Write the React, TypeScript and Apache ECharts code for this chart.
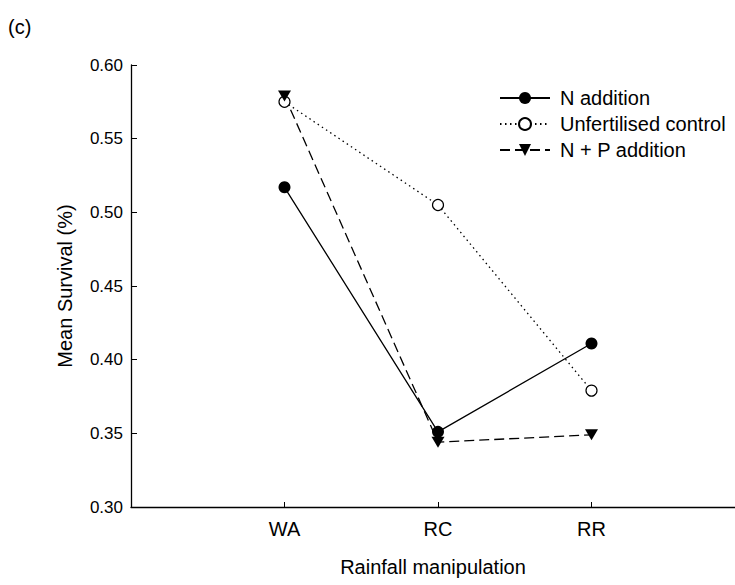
import React, { useEffect, useRef } from "react";
import * as echarts from "echarts";

const categories = ["WA", "RC", "RR"];
const categoryPositions = [1, 2, 3];
const nAddition = [0.517, 0.351, 0.411];
const unfertilised = [0.575, 0.505, 0.379];
const npAddition = [0.579, 0.344, 0.349];
const yTicks = [0.3, 0.35, 0.4, 0.45, 0.5, 0.55, 0.6];
const seriesNames = ["N addition", "Unfertilised control", "N + P addition"];
const panelLabel = "(c)";

const FONT = "Liberation Sans, Arial, sans-serif";

export default function App() {
  const ref = useRef<HTMLDivElement>(null);
  useEffect(() => {
    if (!ref.current) return;
    const chart = echarts.init(ref.current, null, { renderer: "svg" });
    const pts = (vals: number[]) => vals.map((v, i) => [categoryPositions[i], v]);
    chart.setOption({
      animation: false,
      backgroundColor: "#fff",
      graphic: [
        {
          type: "text",
          left: 8,
          top: 17,
          style: { text: panelLabel, fontFamily: FONT, fontSize: 20, fill: "#000" },
        },
      ],
      legend: {
        orient: "vertical",
        left: 499,
        top: 88,
        padding: 0,
        itemWidth: 50,
        itemHeight: 15,
        itemGap: 6,
        data: seriesNames,
        textStyle: { fontFamily: FONT, fontSize: 20, color: "#000", padding: [0, 0, 0, 5] },
      },
      grid: { left: 131, right: 0, top: 65, bottom: 78, containLabel: false },
      xAxis: {
        type: "value",
        min: 0,
        max: 604 / 153.5,
        name: "Rainfall manipulation",
        nameLocation: "middle",
        nameGap: 50,
        nameTextStyle: { fontFamily: FONT, fontSize: 20, color: "#000" },
        splitLine: { show: false },
        axisLine: { lineStyle: { color: "#000", width: 1.3 } },
        axisTick: {
          inside: true,
          length: 5,
          lineStyle: { color: "#000" },
          customValues: categoryPositions,
        },
        axisLabel: {
          customValues: categoryPositions,
          formatter: (v: number) => categories[categoryPositions.indexOf(Math.round(v))] ?? "",
          fontFamily: FONT,
          fontSize: 20,
          color: "#000",
          margin: 12,
        },
      },
      yAxis: {
        type: "value",
        min: 0.3,
        max: 0.6,
        interval: 0.05,
        name: "Mean Survival (%)",
        nameLocation: "middle",
        nameGap: 56,
        nameTextStyle: { fontFamily: FONT, fontSize: 20, color: "#000" },
        splitLine: { show: false },
        axisLine: { show: true, lineStyle: { color: "#000", width: 1.3 } },
        axisTick: { show: true, inside: true, length: 6, lineStyle: { color: "#000" }, customValues: yTicks },
        axisLabel: {
          customValues: yTicks,
          formatter: (v: number) => v.toFixed(2),
          fontFamily: FONT,
          fontSize: 17,
          color: "#000",
          margin: 8,
        },
      },
      series: [
        {
          name: seriesNames[0],
          type: "line",
          data: pts(nAddition),
          symbol: "circle",
          symbolSize: 12,
          color: "#000",
          lineStyle: { color: "#000", width: 1.3, type: "solid" },
          itemStyle: { color: "#000" },
        },
        {
          name: seriesNames[1],
          type: "line",
          data: pts(unfertilised),
          symbol: "circle",
          symbolSize: 11,
          color: "#000",
          lineStyle: { color: "#000", width: 1.3, type: [1.5, 3.5] },
          itemStyle: { color: "#fff", borderColor: "#000", borderWidth: 1.2 },
        },
        {
          name: seriesNames[2],
          type: "line",
          data: pts(npAddition),
          symbol: "path://M0,0 L12,0 L6,10 Z",
          symbolSize: [13, 11],
          color: "#000",
          lineStyle: { color: "#000", width: 1.3, type: [10, 5] },
          itemStyle: { color: "#000" },
        },
      ],
    });
    return () => chart.dispose();
  }, []);
  return <div ref={ref} style={{ width: 735, height: 585, position: "absolute", left: 0, top: 0 }} />;
}
